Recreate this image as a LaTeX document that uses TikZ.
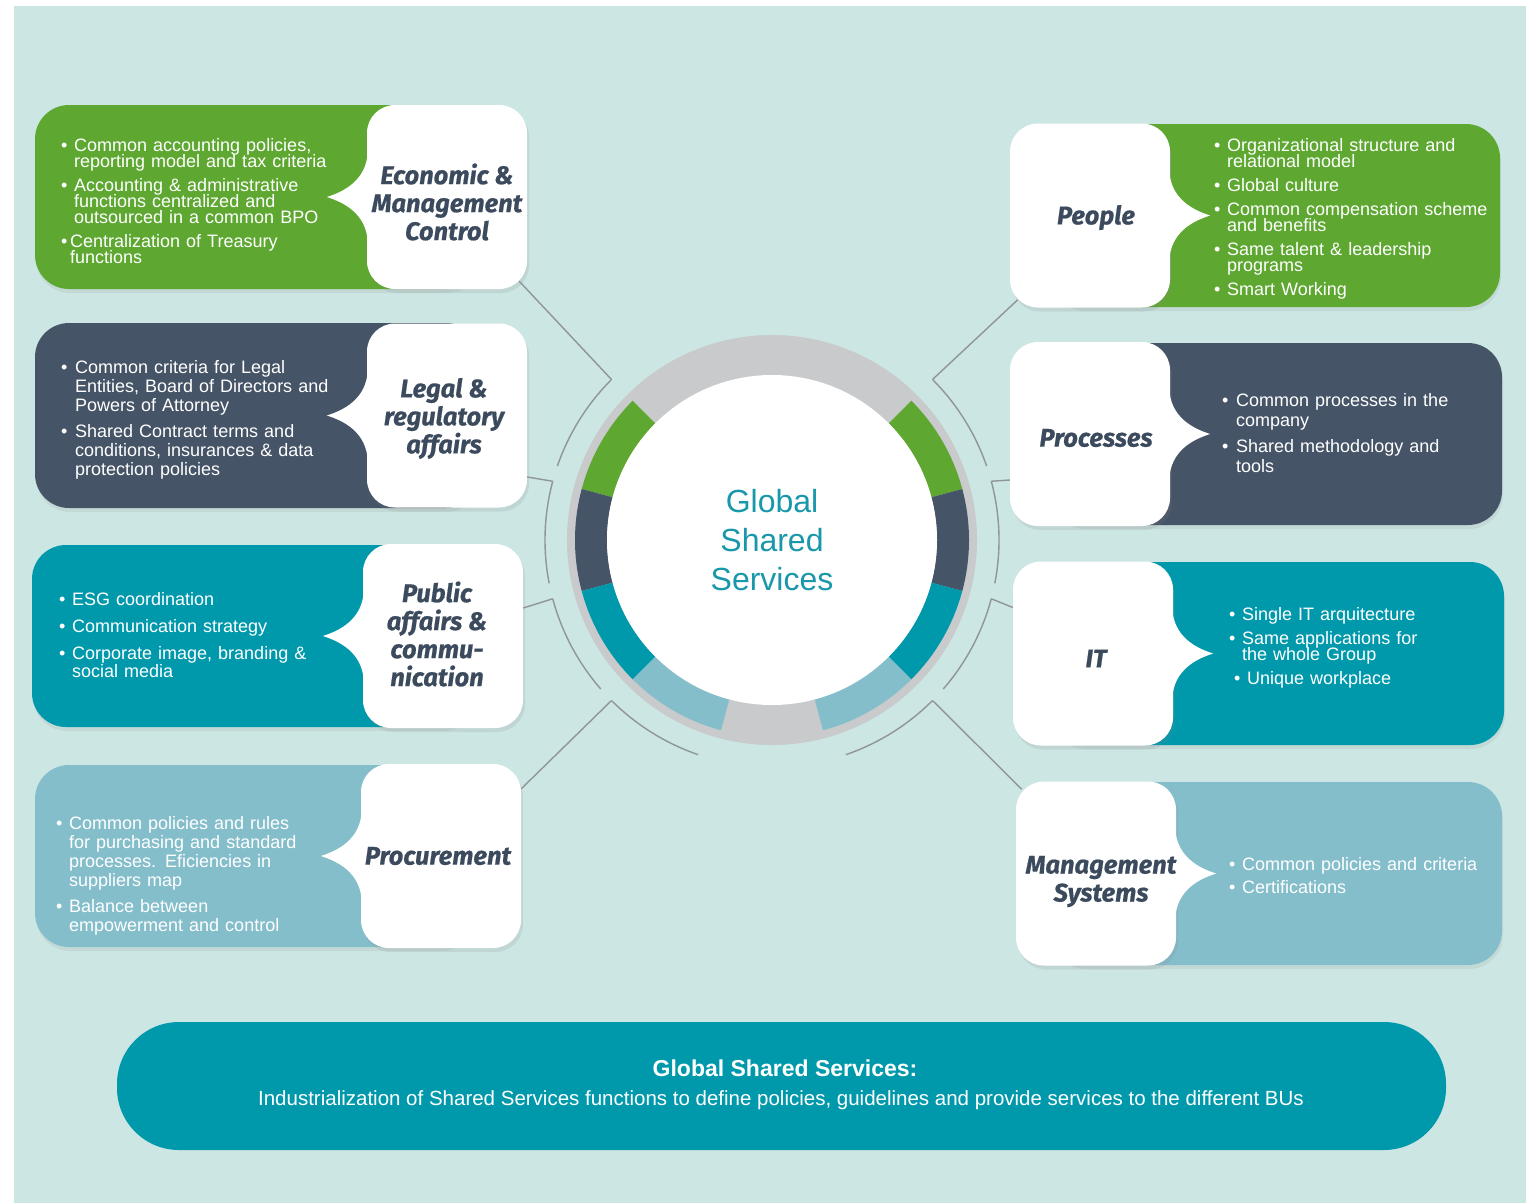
\documentclass[tikz,border=0pt]{standalone}
\usepackage{fontspec}
\setmainfont{Liberation Sans}
\newfontfamily\titlefont{Fira Sans}
\usetikzlibrary{calc,shadows}

\definecolor{bgteal}{HTML}{CCE6E3}
\definecolor{cgreen}{HTML}{5EA832}
\definecolor{cslate}{HTML}{465467}
\definecolor{cteal}{HTML}{0099AC}
\definecolor{clight}{HTML}{85BECB}
\definecolor{ctitle}{HTML}{3C4A5D}
\definecolor{cring}{HTML}{C8CACC}
\definecolor{cline}{HTML}{8F959A}
\definecolor{ccentre}{HTML}{1898AA}

\newcommand{\bitem}[2][13pt]{\par\hangindent=#1\hangafter=1\noindent\makebox[#1][l]{\textbullet}#2}

\begin{document}
\begin{tikzpicture}[x=1pt,y=-1pt]

\tikzset{box/.style = {rounded corners=34pt, drop shadow={opacity=0.12,shadow xshift=1pt,shadow yshift=-4pt}}}
\tikzset{tab/.style = {fill=white, rounded corners=28pt, minimum width=160pt, minimum height=184pt, inner sep=0pt, drop shadow={opacity=0.15,shadow xshift=2pt,shadow yshift=-4pt}}}
\tikzset{title/.style = {align=center, inner sep=0pt, text=ctitle, font=\titlefont\bfseries\itshape\addfontfeature{FakeBold=0.6}\fontsize{25.5}{28}\selectfont}}
\tikzset{list/.style = {anchor=north west, inner sep=0pt, text width=330pt, align=left, text=white}}
\tikzset{link/.style = {draw=cline, line width=1.4pt}}
\tikzset{centre/.style = {text=ccentre, align=center, font=\fontsize{32}{39}\selectfont}}
\tikzset{banner/.style = {fill=cteal, rounded corners=62pt, minimum width=1329pt, minimum height=128pt}}

\useasboundingbox (0,0) rectangle (1526,1203);
\fill[bgteal] (14,6) rectangle (1526,1203);

% ring
\coordinate (ctr) at (772,540);
\fill[cring] (ctr) circle[radius=205pt];
\foreach \a/\b/\c in {135/165/cgreen, 165/195/cslate, 195/225/cteal, 225/255/clight,
                      15/45/cgreen, -15/15/cslate, -45/-15/cteal, -75/-45/clight}
  \fill[\c] ($(ctr)+(\a:197pt)$) arc[start angle=\a, end angle=\b, radius=197pt]
    -- ($(ctr)+(\b:165pt)$) arc[start angle=\b, end angle=\a, radius=165pt] -- cycle;
\fill[white] (ctr) circle[radius=165pt];
\node[centre] (gss) at (ctr) {Global\\Shared\\Services};

% arc ends
\coordinate (a1) at ($(ctr)+(135:227pt)$);
\coordinate (a2) at ($(ctr)+(165:227pt)$);
\coordinate (a3) at ($(ctr)+(195:227pt)$);
\coordinate (a4) at ($(ctr)+(225:227pt)$);
\coordinate (b1) at ($(ctr)+(45:227pt)$);
\coordinate (b2) at ($(ctr)+(15:227pt)$);
\coordinate (b3) at ($(ctr)+(-15:227pt)$);
\coordinate (b4) at ($(ctr)+(-45:227pt)$);
\draw[link] (a1) arc[start angle=135, end angle=161, radius=227pt];
\draw[link] (a2) arc[start angle=165, end angle=191, radius=227pt];
\draw[link] (a3) arc[start angle=195, end angle=221, radius=227pt];
\draw[link] (a4) arc[start angle=225, end angle=251, radius=227pt];
\draw[link] (b1) arc[start angle=45, end angle=19, radius=227pt];
\draw[link] (b2) arc[start angle=15, end angle=-11, radius=227pt];
\draw[link] (b3) arc[start angle=-15, end angle=-41, radius=227pt];
\draw[link] (b4) arc[start angle=-45, end angle=-71, radius=227pt];

% boxes
\fill[cgreen, box] (35,105) rectangle (480,289);
\fill[cslate, box] (35,323) rectangle (480,508);
\fill[cteal, box] (32,545) rectangle (476,727);
\fill[clight, box] (35,765) rectangle (474,947);
\fill[cgreen, box] (1050,124) rectangle (1500,307);
\fill[cslate, box] (1050,343) rectangle (1502,525);
\fill[cteal, box] (1050,562) rectangle (1504,745);
\fill[clight, box] (1050,782) rectangle (1502,965);

% tabs
\node[tab] (econ) at (447,197) {};
\node[tab] (legal) at (447,415.5) {};
\node[tab] (public) at (443,636) {};
\node[tab] (procure) at (441,856) {};
\node[tab] (people) at (1090,215.5) {};
\node[tab] (process) at (1090,434) {};
\node[tab] (it) at (1093,653.5) {};
\node[tab] (ms) at (1096,873.5) {};
\foreach \n in {econ,legal,public,procure}
  \fill[white] ($(\n.west)+(1,-46)$) .. controls ($(\n.west)+(0,-16)$) and ($(\n.west)+(-24,-5)$) .. ($(\n.west)+(-40,0)$)
    .. controls ($(\n.west)+(-24,5)$) and ($(\n.west)+(0,16)$) .. ($(\n.west)+(1,46)$) -- cycle;
\foreach \n in {people,process,it,ms}
  \fill[white] ($(\n.east)+(-1,-46)$) .. controls ($(\n.east)+(0,-16)$) and ($(\n.east)+(24,-5)$) .. ($(\n.east)+(40,0)$)
    .. controls ($(\n.east)+(24,5)$) and ($(\n.east)+(0,16)$) .. ($(\n.east)+(-1,46)$) -- cycle;

% titles
\node[title] (econt) at ($(econ)+(0,5)$) {Economic \&\\Management\\Control};
\node[title] (legalt) at ($(legal)+(-3,3)$) {Legal \&\\regulatory\\affairs};
\node[title] (publict) at ($(public)+(-6,-2)$) {Public\\affairs \&\\commu-\\nication};
\node[title] (procuret) at ($(procure)+(-3,0)$) {Procurement};
\node[title] (peoplet) at ($(people)+(6,2)$) {People};
\node[title] (processt) at ($(process)+(6,4)$) {Processes};
\node[title] (itt) at ($(it)+(3,5)$) {IT};
\node[title] (mst) at ($(ms)+(5,8)$) {Management\\Systems};

% connectors
\draw[link] ($(econ.south east)+(-8,-8)$) -- (a1);
\draw[link] ($(legal.east)+(0,61.5)$) -- (a2);
\draw[link] ($(public.east)+(0,-28)$) -- (a3);
\draw[link] ($(procure.north east)+(0,25)$) -- (a4);
\draw[link] ($(people.south west)+(8,-8)$) -- (b1);
\draw[link] ($(process.west)+(0,46)$) -- (b2);
\draw[link] ($(it.west)+(0,-46)$) -- (b3);
\draw[link] ($(ms.north west)+(6,8)$) -- (b4);

% lists
\node[list, font=\fontsize{18}{16}\selectfont] (econlist) at (61,127) {\lineskiplimit=-50pt\parskip=8pt
\bitem{Common accounting policies,\newline reporting model and tax criteria}
\bitem{Accounting \& administrative\newline functions centralized and\newline outsourced in a common BPO}
\bitem[9pt]{Centralization of Treasury\newline functions}\par};
\node[list, font=\fontsize{18}{19}\selectfont] (legallist) at (61,347.5) {\lineskiplimit=-50pt\parskip=7pt
\bitem[14pt]{Common criteria for Legal\newline Entities, Board of Directors and\newline Powers of Attorney}
\bitem[14pt]{Shared Contract terms and\newline conditions, insurances \& data\newline protection policies}\par};
\node[list, font=\fontsize{18}{18}\selectfont] (publiclist) at (59,578.5) {\lineskiplimit=-50pt\parskip=9pt
\bitem{ESG coordination}
\bitem{Communication strategy}
\bitem{Corporate image, branding \&\newline social media}\par};
\node[list, font=\fontsize{18}{19}\selectfont] (procurelist) at (56,803.5) {\lineskiplimit=-50pt\parskip=7pt
\bitem{Common policies and rules\newline for purchasing and standard\newline processes. Eficiencies in\newline suppliers map}
\bitem{Balance between\newline empowerment and control}\par};
\node[list, font=\fontsize{18}{16}\selectfont] (peoplelist) at (1214,127.5) {\lineskiplimit=-50pt\parskip=8pt
\bitem{Organizational structure and\newline relational model}
\bitem{Global culture}
\bitem{Common compensation scheme\newline and benefits}
\bitem{Same talent \& leadership\newline programs}
\bitem{Smart Working}\par};
\node[list, font=\fontsize{18}{20}\selectfont] (processlist) at (1222,380.5) {\lineskiplimit=-50pt\parskip=6pt
\bitem[14pt]{Common processes in the\newline company}
\bitem[14pt]{Shared methodology and\newline tools}\par};
\node[list, font=\fontsize{18}{16}\selectfont] (itlist) at (1229,596.5) {\lineskiplimit=-50pt\parskip=8pt
\bitem{Single IT arquitecture}
\bitem{Same applications for\newline the whole Group}
\par\noindent\hspace*{5pt}\makebox[13pt][l]{\textbullet}Unique workplace\par};
\node[list, font=\fontsize{18}{16}\selectfont] (mslist) at (1229,847.5) {\lineskiplimit=-50pt\parskip=7pt
\bitem{Common policies and criteria}
\bitem{Certifications}\par};

% banner
\node[banner] (bnr) at (781.5,1086) {};
\node[text=white, font=\bfseries\fontsize{23}{23}\selectfont] (bnrhead) at (785,1068) {Global Shared Services:};
\node[text=white, font=\fontsize{20.5}{20.5}\selectfont] (bnrtext) at (781,1100) {Industrialization of Shared Services functions to define policies, guidelines and provide services to the different BUs};

\end{tikzpicture}
\end{document}
